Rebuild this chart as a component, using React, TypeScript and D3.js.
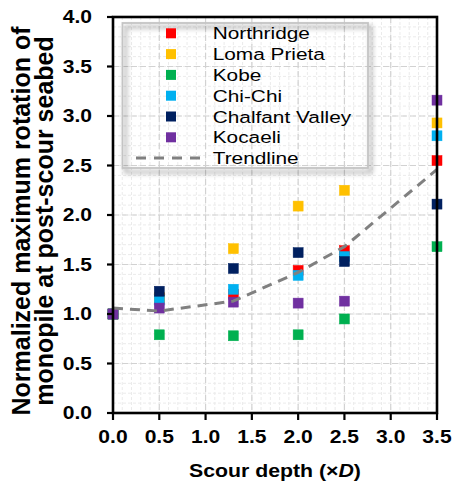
import React from "react";
import * as d3 from "d3";

const W = 453;
const H = 484;

const xValues = [0, 0.5, 1.3, 2.0, 2.5, 3.5];
const northridge = [1.0, 1.16, 1.2, 1.44, 1.64, 2.55];
const lomaPrieta = [1.0, 1.17, 1.66, 2.09, 2.25, 2.93];
const kobe = [1.0, 0.79, 0.78, 0.79, 0.95, 1.68];
const chiChi = [1.0, 1.14, 1.25, 1.39, 1.58, 2.8];
const chalfantValley = [1.0, 1.23, 1.46, 1.62, 1.53, 2.11];
const kocaeli = [1.0, 1.06, 1.12, 1.11, 1.13, 3.16];
const trendline = [1.06, 1.03, 1.13, 1.42, 1.68, 2.46];

const seriesNames = ["Northridge", "Loma Prieta", "Kobe", "Chi-Chi", "Chalfant Valley", "Kocaeli"];
const seriesColors = ["#FF0000", "#FFC000", "#00B050", "#00B0F0", "#002060", "#7030A0"];
const seriesValues = [northridge, lomaPrieta, kobe, chiChi, chalfantValley, kocaeli];

const xTicks = [0, 0.5, 1.0, 1.5, 2.0, 2.5, 3.0, 3.5];
const yTicks = [0, 0.5, 1.0, 1.5, 2.0, 2.5, 3.0, 3.5, 4.0];
const xMinor = d3.range(0, 36).map((i) => i / 10);
const yMinor = d3.range(0, 41).map((i) => i / 10);

const FONT = "'Liberation Sans', Arial, Helvetica, sans-serif";

const left = 113;
const right = 437;
const top = 17;
const bottom = 413;

function SText(props: any) {
  const { x, y, sx = 1, rotate, anchor = "start", size, weight = "normal", children, style } = props;
  const tr = `translate(${x},${y})${rotate ? ` rotate(${rotate})` : ""} scale(${sx},1)`;
  return (
    <text
      transform={tr}
      textAnchor={anchor}
      fontSize={size}
      fontWeight={weight}
      fontFamily={FONT}
      fill="#000"
      style={style}
    >
      {children}
    </text>
  );
}

export default function App() {
  const x = d3.scaleLinear().domain([0, 3.5]).range([left, right]);
  const y = d3.scaleLinear().domain([0, 4]).range([bottom, top]);
  const line = d3
    .line<number>()
    .x((_, i) => x(xValues[i]))
    .y((d) => y(d))
    .curve(d3.curveLinear);

  const ms = 10;
  const legX = 122.5;
  const legY = 23;
  const legW = 245.5;
  const legH = 145;
  const rowY = (i: number) => 33.3 + i * 20.8;

  return (
    <svg
      width={W}
      height={H}
      style={{ position: "absolute", left: 0, top: 0, background: "#fff" }}
    >
      <defs>
        <filter id="shadow" x="-10%" y="-10%" width="130%" height="130%">
          <feDropShadow dx="3" dy="4" stdDeviation="2.4" floodColor="#000" floodOpacity="0.5" />
        </filter>
      </defs>
      <rect x={0} y={0} width={W} height={H} fill="#fff" />

      {/* minor grid */}
      <g>
        {xMinor.map((v, i) => (
          <line key={"xm" + i} x1={x(v)} x2={x(v)} y1={top} y2={bottom} stroke="#ebebeb" strokeWidth={1} strokeDasharray="3,2" />
        ))}
        {yMinor.map((v, i) => (
          <line key={"ym" + i} x1={left} x2={right} y1={y(v)} y2={y(v)} stroke="#ebebeb" strokeWidth={1} strokeDasharray="3,2" />
        ))}
      </g>
      {/* major grid */}
      <g>
        {xTicks.map((v, i) => (
          <line key={"xg" + i} x1={x(v)} x2={x(v)} y1={top} y2={bottom} stroke="#d2d2d2" strokeWidth={1.2} strokeDasharray="6,3" />
        ))}
        {yTicks.map((v, i) => (
          <line key={"yg" + i} x1={left} x2={right} y1={y(v)} y2={y(v)} stroke="#d2d2d2" strokeWidth={1.2} strokeDasharray="6,3" />
        ))}
      </g>

      {/* legend box */}
      <rect
        x={legX}
        y={legY}
        width={legW}
        height={legH}
        fill="none"
        stroke="#c4c4c4"
        strokeWidth={1.8}
        filter="url(#shadow)"
      />

      {/* markers */}
      <g>
        {seriesValues.map((vals, si) =>
          vals.map((v, i) => (
            <rect
              key={si + "-" + i}
              x={x(xValues[i]) - ms / 2}
              y={y(v) - ms / 2}
              width={ms}
              height={ms}
              fill={seriesColors[si]}
              stroke={seriesColors[si]}
              strokeWidth={0.5}
            />
          ))
        )}
      </g>

      {/* trendline */}
      <path d={line(trendline) || ""} fill="none" stroke="#808080" strokeWidth={3} strokeDasharray="10,7" />

      {/* frame */}
      <rect x={left} y={top} width={right - left} height={bottom - top} fill="none" stroke="#000" strokeWidth={2.6} />

      {/* ticks */}
      {xTicks.map((v, i) => (
        <line key={"xt" + i} x1={x(v)} x2={x(v)} y1={bottom} y2={bottom + 7} stroke="#000" strokeWidth={2.2} />
      ))}
      {yTicks.map((v, i) => (
        <line key={"yt" + i} x1={left - 6} x2={left} y1={y(v)} y2={y(v)} stroke="#000" strokeWidth={2.2} />
      ))}

      {/* tick labels */}
      {xTicks.map((v, i) => (
        <SText key={"xl" + i} x={x(v)} y={443} sx={1.17} anchor="middle" size={18} weight="bold">
          {d3.format(".1f")(v)}
        </SText>
      ))}
      {yTicks.map((v, i) => (
        <SText key={"yl" + i} x={92} y={y(v) + 6.4} sx={1.17} anchor="end" size={18} weight="bold">
          {d3.format(".1f")(v)}
        </SText>
      ))}

      {/* axis titles */}
      <SText x={(left + right) / 2} y={477} sx={1.12} anchor="middle" size={19} weight="bold">
        <tspan>Scour depth (×</tspan>
        <tspan fontStyle="italic">D</tspan>
        <tspan>)</tspan>
      </SText>
      <SText x={30} y={221} rotate={-90} anchor="middle" size={25} weight="bold">
        Normalized maximum rotation of
      </SText>
      <SText x={53} y={221} rotate={-90} anchor="middle" size={25} weight="bold">
        monopile at post-scour seabed
      </SText>

      {/* legend entries */}
      {seriesNames.map((name, i) => (
        <g key={"lg" + i}>
          <rect x={171 - ms / 2} y={rowY(i) - ms / 2} width={ms} height={ms} fill={seriesColors[i]} />
          <SText x={212.7} y={rowY(i) + 6} sx={1.24} size={16.8}>
            {name}
          </SText>
        </g>
      ))}
      <line x1={136} x2={202} y1={rowY(6)} y2={rowY(6)} stroke="#808080" strokeWidth={3} strokeDasharray="10,8" />
      <SText x={212.7} y={rowY(6) + 6} sx={1.24} size={16.8}>
        Trendline
      </SText>
    </svg>
  );
}
